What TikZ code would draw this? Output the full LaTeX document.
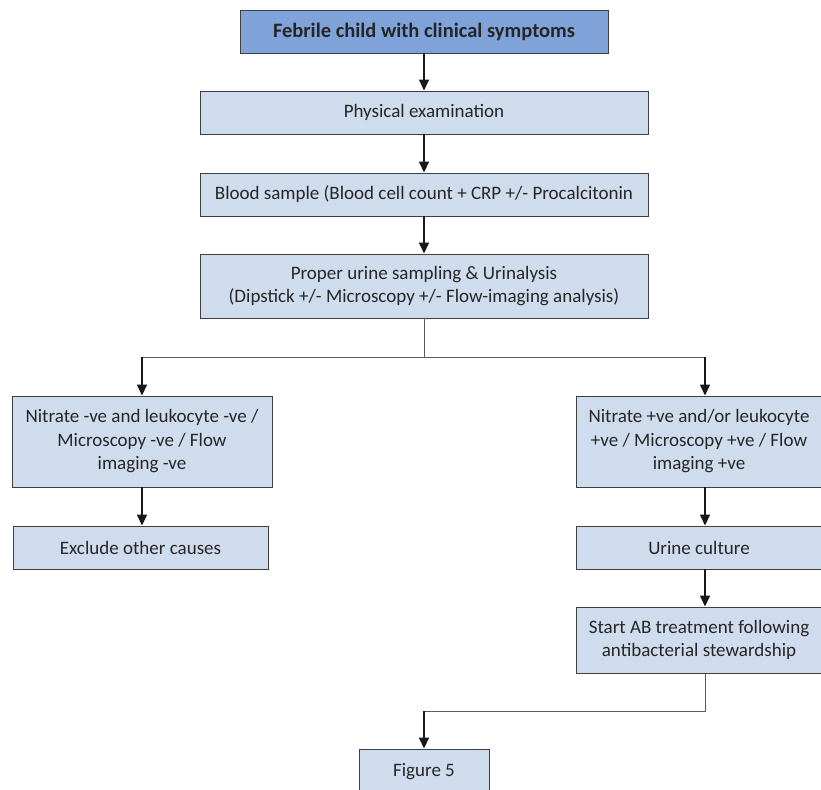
\documentclass[tikz,border=0pt]{standalone}
\usepackage{fontspec}
\setmainfont{Carlito}
\usetikzlibrary{arrows.meta,calc}
\definecolor{boxfill}{HTML}{CFDCED}
\definecolor{topfill}{HTML}{7FA2D8}
\definecolor{boxline}{HTML}{3F3F3F}
\definecolor{conngray}{HTML}{5A5A5A}
\tikzset{
  box/.style={draw=boxline, line width=0.9pt, fill=boxfill, inner sep=2pt,
    align=center, font=\fontsize{19}{23.5}\selectfont, text=black!85},
  topbox/.style={box, fill=topfill, font=\fontsize{20.5}{24}\selectfont\bfseries},
  arr/.style={draw=black!90, line width=1.5pt, -{Triangle[width=10pt,length=11pt]}},
  plain/.style={draw=conngray, line width=1pt}
}
\begin{document}
\begin{tikzpicture}[x=1pt,y=-1pt]
\useasboundingbox (0,0) rectangle (821,789);
\clip (0,0) rectangle (821,789);
\node[topbox, minimum width=368, minimum height=43] (top) at (424,31.5) {Febrile child with clinical symptoms};
\node[box, minimum width=448, minimum height=43] (phys) at (424,112.5) {Physical examination};
\node[box, minimum width=448, minimum height=43] (blood) at (424,194.5) {Blood sample (Blood cell count + CRP +/- Procalcitonin};
\node[box, minimum width=448, minimum height=64] (urine) at (424,286) {Proper urine sampling \& Urinalysis\\(Dipstick +/- Microscopy +/- Flow-imaging analysis)};
\node[box, minimum width=260, minimum height=91] (left) at (142,441.5) {Nitrate -ve and leukocyte -ve /\\Microscopy -ve / Flow\\imaging -ve};
\node[box, minimum width=255, minimum height=43] (excl) at (140.5,547.5) {Exclude other causes};
\node[box, minimum width=246, minimum height=91] (right) at (699,441.5) {Nitrate +ve and/or leukocyte\\+ve / Microscopy +ve / Flow\\imaging +ve};
\node[box, minimum width=246, minimum height=43] (cult) at (699,547.5) {Urine culture};
\node[box, minimum width=246, minimum height=66] (abx) at (699,640) {Start AB treatment following\\antibacterial stewardship};
\node[box, minimum width=130, minimum height=46] (fig) at (424,772) {Figure 5};

\draw[arr] (top) -- (phys);
\draw[arr] (phys) -- (blood);
\draw[arr] (blood) -- (urine);

\coordinate (split) at ($(urine.south)+(0,39)$);
\coordinate (lsplit) at (split -| left.north);
\coordinate (rsplit) at ($(split -| right.north)+(6,0)$);
\draw[plain] (urine.south) -- (split);
\draw[plain] (lsplit) -- (rsplit);
\draw[arr] (lsplit) -- (left.north);
\draw[arr] (rsplit) -- (rsplit |- right.north);

\draw[arr] (left) -- (left |- excl.north);
\coordinate (rx) at ($(right.south)+(6,0)$);
\draw[arr] (rx) -- (rx |- cult.north);
\coordinate (rx2) at ($(cult.south)+(6,0)$);
\draw[arr] (rx2) -- (rx2 |- abx.north);

\coordinate (ab) at ($(abx.south)+(6,0)$);
\coordinate (join) at ($(ab)+(0,38)$);
\draw[plain] (ab) -- (join) -- (join -| fig.north);
\draw[arr] (join -| fig.north) -- (fig.north);
\end{tikzpicture}
\end{document}
